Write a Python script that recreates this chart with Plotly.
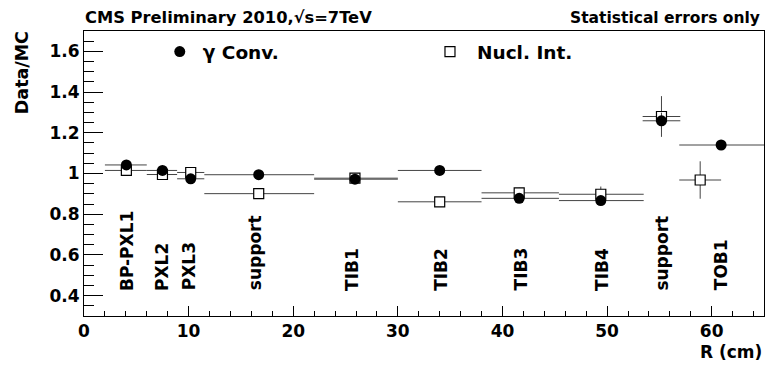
import plotly.graph_objects as go

# ---- data ----
region_labels = ["BP-PXL1", "PXL2", "PXL3", "support", "TIB1", "TIB2", "TIB3", "TIB4", "support", "TOB1"]
label_x = [4.06, 7.4, 10.0, 16.35, 25.6, 34.1, 41.8, 49.5, 55.3, 60.9]

conv_x = [4.05, 7.5, 10.2, 16.7, 25.9, 34.0, 41.6, 49.4, 55.2, 60.9]
conv_lo = [2.0, 6.0, 8.9, 11.5, 22.0, 30.0, 38.0, 45.4, 53.4, 56.9]
conv_hi = [6.0, 8.9, 11.5, 22.0, 30.0, 38.0, 45.4, 53.5, 57.0, 65.0]
conv_y = [1.042, 1.015, 0.974, 0.994, 0.972, 1.015, 0.878, 0.867, 1.259, 1.140]
conv_err = [0.01, 0.01, 0.01, 0.01, 0.01, 0.01, 0.01, 0.01, 0.04, 0.01]

ni_x = [4.05, 7.5, 10.2, 16.7, 25.9, 34.0, 41.6, 49.4, 55.2, 58.9]
ni_lo = [2.0, 6.0, 8.9, 11.5, 22.0, 30.0, 38.0, 45.4, 53.4, 56.9]
ni_hi = [6.0, 8.9, 11.5, 22.0, 30.0, 38.0, 45.4, 53.5, 57.0, 60.9]
ni_y = [1.015, 0.995, 1.005, 0.901, 0.977, 0.861, 0.905, 0.898, 1.280, 0.968]
ni_err = [0.01, 0.01, 0.015, 0.01, 0.025, 0.015, 0.025, 0.038, 0.10, 0.092]

FONT = "DejaVu Sans"

def xerr(x, lo, hi):
    return [h - v for v, h in zip(x, hi)], [v - l for v, l in zip(x, lo)]

fig = go.Figure()

ni_plus, ni_minus = xerr(ni_x, ni_lo, ni_hi)
fig.add_trace(go.Scatter(
    x=ni_x, y=ni_y, mode="markers", name="Nucl. Int.", legend="legend2",
    marker=dict(symbol="square", size=10, color="white", line=dict(color="black", width=1.2)),
    error_x=dict(type="data", array=ni_plus, arrayminus=ni_minus, symmetric=False,
                 color="#444", thickness=1, width=0),
    error_y=dict(type="data", array=ni_err, color="#444", thickness=1, width=0),
))

cv_plus, cv_minus = xerr(conv_x, conv_lo, conv_hi)
fig.add_trace(go.Scatter(
    x=conv_x, y=conv_y, mode="markers", name="γ Conv.", legend="legend",
    marker=dict(symbol="circle", size=11, color="black", line=dict(width=0)),
    error_x=dict(type="data", array=cv_plus, arrayminus=cv_minus, symmetric=False,
                 color="#444", thickness=1, width=0),
    error_y=dict(type="data", array=conv_err, color="#444", thickness=1, width=0),
))

annotations = []
for lab, lx in zip(region_labels, label_x):
    annotations.append(dict(
        x=lx, y=0.415, xref="x", yref="y", text=lab, textangle=-90,
        xanchor="center", yanchor="bottom", showarrow=False,
        font=dict(family=FONT, size=17, color="black", weight="bold")))

annotations += [
    dict(x=-0.002, y=1.046, xref="paper", yref="paper", text="CMS Preliminary 2010,√s=7TeV",
         xanchor="left", yanchor="middle", showarrow=False,
         font=dict(family=FONT, size=16.3, color="black", weight="bold")),
    dict(x=0.997, y=1.046, xref="paper", yref="paper", text="Statistical errors only",
         xanchor="right", yanchor="middle", showarrow=False,
         font=dict(family=FONT, size=15.5, color="black", weight="bold")),
    dict(x=1.0, y=-0.126, xref="paper", yref="paper", text="R (cm)",
         xanchor="right", yanchor="middle", showarrow=False,
         font=dict(family=FONT, size=17, color="black", weight="bold")),
    dict(x=-0.091, y=1.005, xref="paper", yref="paper", text="Data/MC", textangle=-90,
         xanchor="center", yanchor="top", showarrow=False,
         font=dict(family=FONT, size=17.5, color="black", weight="bold")),
]

legend_common = dict(orientation="v", yanchor="middle", xanchor="left",
                     font=dict(family=FONT, size=18.5, color="black", weight="bold"),
                     bgcolor="rgba(0,0,0,0)", borderwidth=0)

fig.update_layout(
    width=765, height=365,
    margin=dict(l=84, r=1, t=31, b=49),
    paper_bgcolor="white", plot_bgcolor="white",
    showlegend=True,
    legend=dict(x=0.107, y=0.926, itemwidth=36, **legend_common),
    legend2=dict(x=0.4985, y=0.926, itemwidth=44, **legend_common),
    annotations=annotations,
    xaxis=dict(range=[0, 65], tick0=0, dtick=10, ticks="inside", ticklen=10, tickwidth=1,
               tickcolor="black", showline=True, linecolor="black", linewidth=1, mirror=True,
               showgrid=False, zeroline=False,
               tickfont=dict(family=FONT, size=17, color="black", weight="bold"),
               minor=dict(dtick=2, ticks="inside", ticklen=5, tickcolor="black", showgrid=False)),
    yaxis=dict(range=[0.3, 1.7], tick0=0.4, dtick=0.2, ticks="inside", ticklen=19, tickwidth=1,
               tickcolor="black", showline=True, linecolor="black", linewidth=1, mirror=True,
               showgrid=False, zeroline=False,
               tickfont=dict(family=FONT, size=17, color="black", weight="bold"),
               minor=dict(dtick=0.05, tick0=0.3, ticks="inside", ticklen=10, tickcolor="black", showgrid=False)),
)

fig.write_html("out.html")
